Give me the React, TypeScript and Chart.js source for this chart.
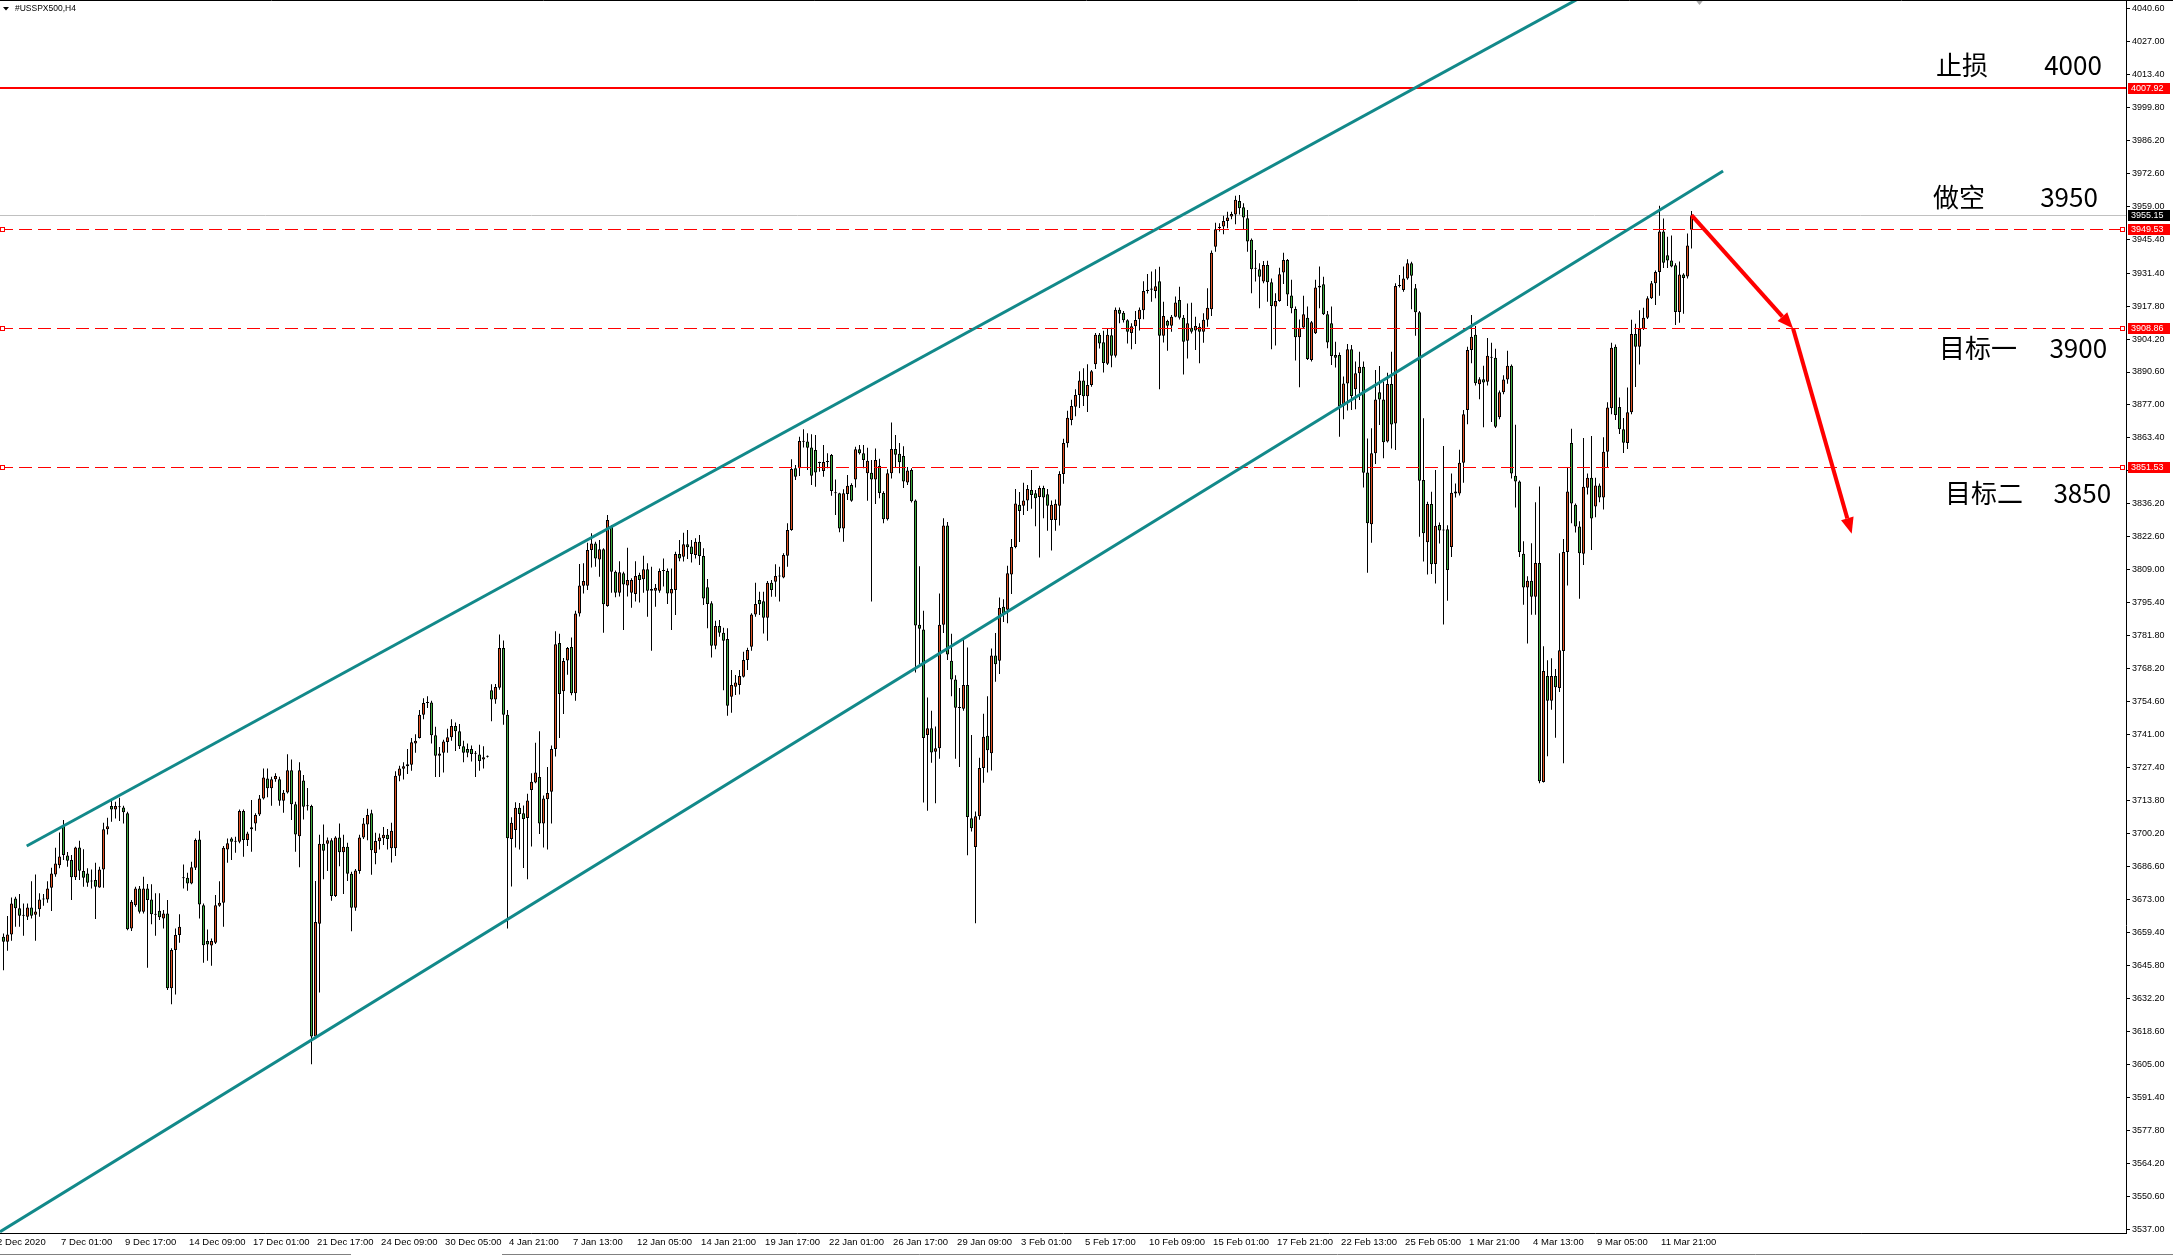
import React, { useEffect, useRef } from 'react';
import { Chart, registerables } from 'chart.js';

Chart.register(...registerables);

// ---- data (H4 candles, #USSPX500) ----
const opens = [
3657.7,3655.6,3658.6,3673.5,3669.4,3666.3,3665.9,3669.8,3666.8,3669.0,
3673.1,3673.1,3677.9,3683.4,3687.2,3703.5,3691.2,3689.3,3682.2,3694.5,
3684.8,3683.8,3680.5,3681.1,3678.0,3685.4,3702.0,3711.6,3710.2,3711.5,
3711.0,3708.6,3661.1,3670.7,3677.6,3668.0,3677.6,3673.1,3667.0,3668.4,
3665.2,3667.3,3636.4,3652.2,3658.4,3681.8,3682.0,3679.7,3686.1,3697.8,
3670.7,3655.9,3654.1,3655.2,3670.5,3671.7,3693.7,3698.2,3696.9,3696.9,
3709.5,3697.6,3702.0,3704.4,3708.1,3714.7,3723.0,3718.9,3722.6,3722.6,
3713.8,3717.2,3726.4,3712.3,3699.1,3722.1,3711.5,3711.6,3616.6,3663.0,
3696.0,3696.0,3697.5,3674.5,3698.6,3692.5,3694.8,3683.7,3669.6,3684.8,
3698.6,3704.0,3708.6,3692.2,3697.1,3698.3,3699.8,3694.2,3694.2,3724.1,
3727.0,3728.0,3728.6,3737.4,3739.7,3749.2,3754.1,3754.3,3740.8,3732.3,
3733.6,3738.0,3740.0,3744.6,3742.4,3736.3,3735.1,3735.1,3733.2,3732.8,
3730.8,3731.9,3759.3,3755.5,3760.4,3776.8,3749.2,3698.0,3701.7,3710.9,
3708.6,3706.7,3718.2,3721.3,3723.6,3704.4,3714.4,3717.5,3735.1,3778.8,
3758.9,3771.6,3777.2,3758.1,3791.0,3802.4,3802.4,3817.2,3819.9,3813.3,
3817.5,3794.1,3826.8,3808.2,3799.6,3807.6,3802.5,3799.6,3799.0,3806.9,
3805.1,3809.3,3800.4,3800.4,3800.4,3808.5,3808.5,3799.3,3800.7,3815.5,
3814.4,3819.6,3818.6,3815.1,3820.6,3814.7,3801.8,3795.2,3777.7,3785.8,
3783.1,3780.5,3756.7,3760.8,3761.5,3764.9,3771.8,3777.3,3790.6,3796.6,
3796.1,3789.3,3803.7,3804.1,3806.5,3805.9,3814.8,3825.4,3850.9,3850.9,
3861.8,3861.9,3859.5,3858.4,3853.1,3849.8,3853.5,3856.4,3841.0,3840.6,
3826.1,3840.3,3844.0,3846.3,3858.7,3857.1,3848.8,3849.1,3846.3,3851.9,
3840.7,3829.9,3848.8,3858.8,3856.9,3856.0,3845.0,3850.2,3837.6,3786.4,
3784.4,3740.9,3743.7,3734.0,3735.4,3786.4,3827.3,3771.5,3763.8,3752.2,
3751.7,3761.5,3706.6,3694.7,3707.4,3727.3,3740.6,3733.4,3773.7,3771.5,
3793.8,3792.5,3807.1,3818.4,3835.9,3835.4,3837.6,3841.9,3840.6,3839.0,
3842.8,3840.2,3829.6,3829.6,3835.4,3848.5,3861.2,3870.8,3876.3,3881.1,
3887.1,3880.6,3885.2,3893.8,3906.0,3902.9,3894.0,3905.8,3897.3,3916.3,
3915.0,3911.9,3906.7,3909.5,3912.4,3916.1,3924.0,3924.5,3924.0,3928.0,
3905.6,3911.6,3909.7,3913.4,3920.3,3913.0,3903.5,3908.9,3907.7,3909.3,
3907.2,3912.1,3916.5,3942.3,3950.0,3950.6,3952.9,3954.7,3955.6,3961.1,
3958.5,3954.0,3945.1,3933.2,3933.0,3927.9,3934.7,3927.6,3917.6,3919.9,
3931.6,3936.8,3922.1,3916.6,3904.9,3909.0,3913.0,3895.6,3906.6,3926.2,
3926.8,3914.4,3910.7,3897.6,3897.6,3876.7,3885.9,3900.0,3883.5,3890.1,
3892.8,3849.2,3827.8,3857.1,3882.2,3879.3,3861.9,3885.7,3869.4,3926.1,
3924.4,3929.2,3935.4,3925.1,3915.2,3846.1,3820.4,3836.2,3811.4,3827.5,
3825.2,3825.7,3818.4,3840.5,3840.5,3853.2,3874.9,3899.7,3906.0,3885.5,
3887.6,3886.6,3896.8,3896.5,3871.9,3882.2,3887.5,3893.2,3847.8,3845.4,
3815.6,3801.7,3804.5,3797.9,3811.8,3721.5,3765.2,3755.0,3765.2,3760.3,
3775.5,3816.4,3861.3,3835.9,3826.9,3815.6,3842.9,3847.0,3835.1,3843.8,
3838.8,3857.7,3875.7,3901.0,3876.2,3867.0,3861.3,3874.0,3906.3,3901.0,
3908.4,3913.0,3921.0,3927.2,3931.8,3948.5,3938.7,3936.6,3934.6,3915.3,
3930.8,3930.0,3949.3
];

const highs = [
3659.0,3666.2,3673.9,3674.2,3675.3,3671.4,3671.4,3680.6,3683.4,3675.6,
3675.3,3680.6,3686.1,3694.4,3700.7,3705.8,3692.6,3691.4,3694.8,3697.3,
3693.8,3685.9,3685.4,3688.2,3686.6,3704.7,3706.8,3713.8,3713.4,3715.0,
3711.7,3709.2,3672.8,3678.3,3678.6,3682.4,3679.4,3679.3,3675.6,3675.6,
3668.7,3672.8,3652.9,3661.1,3667.0,3687.5,3684.1,3688.6,3698.2,3701.4,
3671.4,3660.7,3657.0,3674.9,3680.6,3695.1,3698.2,3698.7,3698.9,3710.2,
3710.2,3701.0,3714.1,3708.6,3716.1,3727.1,3727.1,3723.7,3725.1,3723.7,
3718.2,3733.0,3730.8,3713.4,3729.7,3724.4,3719.0,3712.1,3680.7,3699.8,
3704.0,3698.6,3698.3,3699.1,3704.4,3699.8,3696.5,3684.5,3685.6,3699.8,
3706.7,3710.5,3710.1,3700.6,3700.3,3702.9,3702.1,3704.7,3725.9,3728.2,
3729.7,3735.1,3739.7,3741.2,3751.2,3756.1,3756.9,3755.0,3744.3,3735.9,
3738.9,3743.5,3747.4,3746.1,3745.4,3738.5,3737.4,3736.6,3734.3,3736.9,
3736.3,3732.4,3761.8,3761.9,3782.3,3779.9,3751.2,3707.0,3713.2,3712.9,
3711.8,3716.7,3725.1,3737.7,3742.4,3715.9,3727.7,3736.6,3783.7,3782.6,
3772.6,3777.2,3781.1,3792.1,3811.4,3811.7,3820.2,3824.1,3820.6,3821.3,
3817.9,3831.6,3827.5,3808.7,3812.6,3808.2,3818.1,3805.5,3812.6,3807.8,
3814.8,3811.7,3810.3,3803.2,3809.6,3813.7,3809.6,3809.6,3816.5,3821.3,
3824.3,3825.4,3821.3,3822.0,3823.4,3817.9,3805.2,3796.1,3788.0,3788.3,
3785.1,3784.9,3767.7,3765.6,3767.7,3775.2,3776.9,3791.1,3803.7,3800.0,
3800.0,3804.4,3804.8,3811.3,3810.3,3815.8,3828.2,3854.6,3852.2,3863.9,
3867.0,3865.3,3864.9,3864.6,3853.6,3860.5,3857.1,3856.8,3846.3,3840.8,
3842.2,3848.1,3844.7,3859.8,3860.5,3860.5,3859.4,3854.3,3859.1,3854.8,
3841.4,3850.5,3869.8,3864.6,3861.3,3860.0,3851.4,3850.9,3838.0,3810.5,
3792.1,3756.4,3750.9,3744.4,3799.3,3830.3,3828.7,3782.7,3765.5,3760.3,
3780.1,3777.0,3740.9,3709.3,3731.5,3749.7,3756.9,3776.6,3783.0,3797.6,
3796.9,3810.7,3821.7,3842.3,3841.1,3844.9,3844.0,3850.2,3841.9,3843.7,
3843.7,3842.3,3837.6,3838.0,3849.7,3863.1,3874.6,3879.2,3883.5,3890.9,
3892.1,3893.8,3891.4,3906.7,3906.7,3907.6,3908.6,3908.9,3917.2,3917.2,
3915.8,3912.4,3910.7,3915.8,3917.2,3928.0,3931.0,3932.0,3933.0,3934.0,
3919.6,3912.1,3914.1,3921.7,3925.8,3914.1,3918.9,3919.2,3913.4,3910.7,
3914.8,3925.1,3940.7,3952.2,3951.9,3955.0,3956.7,3956.7,3963.3,3963.6,
3960.2,3957.4,3945.7,3940.9,3935.4,3936.4,3936.5,3929.2,3923.1,3933.6,
3939.8,3937.2,3928.6,3917.6,3912.3,3922.0,3917.6,3911.6,3928.6,3934.1,
3929.9,3915.8,3917.6,3903.1,3898.6,3888.7,3902.2,3901.7,3894.9,3899.0,
3894.9,3863.2,3867.4,3891.4,3893.1,3886.6,3890.3,3899.0,3927.2,3930.6,
3934.1,3937.1,3936.1,3926.9,3915.8,3871.5,3837.1,3841.2,3850.2,3828.5,
3860.1,3827.4,3848.7,3844.6,3858.5,3874.9,3901.0,3914.1,3909.6,3888.4,
3893.2,3904.6,3902.7,3900.2,3883.0,3889.3,3899.4,3893.7,3868.8,3845.9,
3820.8,3806.4,3820.0,3836.9,3843.4,3777.5,3771.7,3772.5,3768.1,3815.9,
3821.7,3851.1,3867.2,3836.4,3829.0,3863.4,3848.7,3864.2,3847.0,3844.6,
3863.7,3878.1,3902.7,3901.9,3880.1,3871.6,3884.2,3912.2,3910.5,3916.1,
3917.1,3921.8,3928.1,3932.5,3959.2,3953.9,3946.4,3946.9,3935.4,3936.2,
3931.3,3947.7,3957.0
];

const lows = [
3643.9,3651.9,3656.0,3661.8,3661.8,3658.1,3664.6,3665.2,3656.0,3665.9,
3670.5,3671.7,3668.3,3682.4,3685.9,3689.3,3686.6,3672.8,3681.1,3681.1,
3678.3,3678.3,3677.6,3665.0,3677.9,3677.9,3699.9,3705.1,3706.5,3705.4,
3704.4,3660.4,3660.1,3670.1,3667.3,3667.3,3644.9,3662.8,3658.1,3664.6,
3661.1,3635.7,3629.8,3633.9,3655.2,3677.6,3676.7,3679.3,3685.2,3665.2,
3647.0,3647.8,3645.7,3654.7,3670.1,3661.8,3688.2,3689.3,3692.3,3696.2,
3690.7,3695.1,3692.7,3701.4,3707.5,3714.3,3715.2,3711.7,3721.6,3711.7,
3708.8,3716.8,3705.8,3692.7,3686.3,3706.0,3709.8,3605.1,3615.8,3634.7,
3681.4,3684.8,3672.5,3674.1,3686.8,3675.3,3680.7,3660.0,3668.4,3683.7,
3698.0,3697.5,3683.3,3687.6,3693.7,3695.5,3693.7,3688.3,3691.0,3721.8,
3722.5,3724.8,3726.2,3733.6,3739.4,3747.4,3752.0,3737.4,3723.6,3723.6,
3725.4,3733.6,3738.5,3734.3,3735.1,3729.7,3731.7,3730.0,3723.6,3726.2,
3727.1,3731.6,3746.6,3753.8,3759.6,3745.1,3661.1,3678.4,3694.5,3693.7,
3686.0,3681.4,3694.9,3721.0,3700.1,3694.5,3693.7,3704.4,3732.0,3739.7,
3749.6,3765.7,3757.3,3755.0,3789.8,3799.3,3800.7,3810.0,3810.3,3806.2,
3783.1,3793.8,3799.6,3797.7,3798.0,3784.2,3798.0,3793.4,3795.9,3795.5,
3799.6,3789.7,3775.6,3793.8,3799.6,3802.1,3794.9,3784.2,3790.4,3812.6,
3812.4,3813.5,3812.0,3813.7,3811.0,3794.5,3784.9,3772.9,3776.3,3781.4,
3759.4,3748.8,3750.1,3757.4,3757.6,3764.6,3767.7,3775.6,3789.7,3790.4,
3782.8,3779.8,3797.9,3797.9,3795.9,3805.5,3810.3,3825.1,3846.1,3847.7,
3859.5,3850.2,3844.0,3843.3,3849.5,3847.4,3850.9,3839.6,3831.6,3824.5,
3820.6,3837.8,3837.1,3843.0,3856.6,3850.9,3837.5,3795.9,3836.2,3838.5,
3828.2,3829.4,3846.7,3851.4,3848.8,3842.8,3844.0,3836.8,3766.7,3770.1,
3713.1,3709.7,3729.4,3712.7,3731.1,3783.0,3771.8,3756.9,3731.1,3727.7,
3750.9,3691.3,3701.1,3663.3,3705.9,3721.2,3725.4,3726.3,3762.9,3766.0,
3787.5,3787.0,3799.0,3817.9,3820.5,3831.6,3833.3,3834.2,3827.0,3814.1,
3830.3,3825.1,3817.0,3825.1,3827.3,3844.5,3859.5,3868.6,3872.3,3875.8,
3876.6,3874.1,3884.5,3891.8,3900.3,3890.4,3893.5,3892.6,3896.6,3910.7,
3911.0,3902.4,3900.0,3902.1,3907.7,3912.4,3923.0,3919.6,3921.0,3883.5,
3902.8,3899.4,3907.2,3913.2,3912.3,3889.6,3896.2,3906.5,3899.7,3894.2,
3902.7,3909.3,3913.7,3940.2,3948.5,3947.4,3949.9,3953.6,3951.5,3955.6,
3949.2,3940.2,3923.1,3927.9,3916.9,3927.2,3919.6,3900.0,3901.5,3919.6,
3926.9,3917.8,3914.8,3895.3,3884.3,3908.6,3895.6,3894.9,3906.3,3916.9,
3914.1,3900.4,3893.5,3892.5,3863.9,3871.1,3874.7,3874.9,3875.2,3879.1,
3843.0,3807.8,3820.2,3852.7,3868.7,3855.0,3861.5,3859.1,3858.4,3925.5,
3923.7,3928.6,3916.5,3905.6,3822.7,3812.4,3807.1,3807.3,3803.4,3819.9,
3786.5,3796.3,3814.3,3838.8,3839.7,3844.9,3869.1,3894.2,3885.0,3879.4,
3867.8,3885.0,3870.0,3867.5,3871.1,3881.4,3885.8,3846.7,3834.7,3814.3,
3794.6,3778.6,3790.5,3790.5,3721.0,3721.3,3732.1,3751.3,3739.8,3758.6,
3729.2,3802.5,3828.2,3824.4,3797.1,3811.0,3840.1,3817.2,3830.7,3836.9,
3833.9,3851.1,3873.2,3870.8,3865.0,3857.2,3858.8,3873.2,3884.4,3893.7,
3907.9,3912.5,3920.7,3918.2,3922.0,3933.5,3933.5,3933.8,3910.0,3910.9,
3914.6,3929.2,3941.5
];

const closes = [
3655.6,3658.6,3671.4,3669.4,3666.3,3666.6,3669.8,3666.3,3668.1,3673.1,
3673.3,3677.6,3683.8,3687.9,3690.8,3691.4,3689.0,3682.2,3694.5,3684.9,
3682.0,3680.0,3680.9,3678.3,3685.4,3702.0,3703.3,3710.2,3711.6,3711.1,
3709.0,3660.8,3672.1,3677.6,3668.0,3677.6,3672.8,3667.0,3666.8,3665.7,
3667.3,3636.4,3652.2,3658.4,3661.8,3682.2,3679.7,3686.3,3697.6,3671.0,
3654.2,3654.5,3655.9,3670.7,3671.7,3694.4,3696.2,3696.9,3697.1,3709.5,
3697.6,3700.3,3702.8,3707.9,3714.7,3723.4,3718.9,3722.6,3724.0,3713.8,
3717.1,3726.4,3712.3,3699.9,3726.4,3711.3,3711.8,3616.6,3663.8,3696.0,
3693.2,3697.5,3674.5,3698.6,3692.5,3694.8,3683.7,3669.6,3685.0,3698.6,
3704.4,3707.9,3693.4,3697.2,3698.6,3699.8,3698.0,3701.4,3724.1,3727.1,
3728.0,3728.8,3737.9,3738.5,3749.2,3754.1,3754.4,3740.8,3732.3,3733.3,
3738.2,3740.0,3744.6,3742.4,3736.3,3733.6,3733.6,3733.1,3733.4,3730.2,
3731.7,3732.1,3755.5,3760.7,3776.8,3749.2,3698.3,3704.7,3710.9,3708.3,
3706.3,3713.9,3721.6,3725.4,3704.4,3714.7,3717.0,3735.1,3778.3,3757.8,
3771.4,3776.8,3758.1,3791.0,3802.5,3804.4,3817.2,3819.9,3813.7,3817.5,
3794.8,3829.6,3808.2,3799.6,3808.0,3803.0,3804.8,3804.8,3806.5,3804.8,
3809.3,3800.4,3801.1,3801.6,3808.5,3808.7,3799.3,3801.1,3815.5,3813.7,
3819.6,3818.3,3815.5,3820.6,3814.7,3797.2,3794.9,3777.7,3785.8,3783.1,
3779.8,3753.0,3761.5,3762.5,3765.2,3771.8,3775.9,3790.6,3794.9,3794.8,
3789.3,3803.7,3800.7,3806.5,3806.3,3815.1,3825.4,3850.6,3847.4,3862.1,
3862.0,3859.4,3847.8,3849.2,3853.3,3853.5,3853.7,3841.5,3840.6,3826.1,
3840.6,3843.7,3837.5,3858.7,3857.1,3854.3,3854.0,3846.3,3854.3,3840.7,
3829.9,3848.8,3858.8,3856.5,3853.4,3845.4,3850.0,3837.3,3786.1,3784.7,
3739.7,3743.7,3733.7,3735.4,3786.4,3827.3,3774.1,3763.8,3752.1,3752.0,
3761.5,3707.1,3702.4,3707.4,3727.3,3740.2,3734.6,3773.7,3770.1,3793.3,
3790.7,3807.6,3818.4,3836.4,3833.3,3837.6,3842.3,3839.9,3838.5,3842.8,
3838.8,3835.4,3835.9,3836.3,3848.5,3861.3,3871.7,3876.6,3881.1,3887.1,
3880.6,3885.2,3890.9,3906.0,3902.4,3894.3,3906.0,3897.3,3916.3,3914.6,
3911.9,3907.2,3909.5,3912.0,3916.3,3924.0,3924.5,3925.0,3926.0,3905.5,
3913.7,3909.7,3913.4,3919.3,3913.0,3903.1,3910.7,3907.2,3909.6,3907.2,
3912.1,3917.1,3939.8,3949.5,3950.3,3952.9,3954.3,3955.8,3961.6,3958.1,
3954.3,3944.4,3933.0,3933.5,3929.9,3934.7,3927.6,3917.8,3919.9,3930.9,
3936.8,3922.6,3916.9,3904.9,3908.9,3914.4,3896.0,3911.1,3925.5,3925.5,
3914.4,3902.8,3897.2,3896.5,3876.6,3885.9,3900.0,3880.7,3890.1,3892.8,
3849.1,3828.2,3857.1,3879.3,3879.3,3861.6,3885.7,3869.0,3926.1,3926.3,
3929.2,3935.4,3930.3,3915.2,3845.8,3824.1,3836.2,3811.3,3827.2,3825.2,
3825.5,3808.9,3840.8,3841.3,3853.2,3873.2,3899.7,3905.1,3886.0,3887.6,
3886.3,3897.3,3896.5,3868.0,3882.2,3887.5,3893.2,3848.7,3845.4,3816.4,
3801.7,3804.5,3797.9,3811.8,3721.8,3767.3,3755.0,3765.2,3760.6,3775.8,
3816.4,3841.3,3836.4,3826.9,3815.9,3843.3,3847.0,3830.2,3843.8,3838.8,
3857.7,3876.0,3900.6,3872.9,3867.0,3861.4,3874.0,3906.3,3901.0,3908.4,
3913.0,3921.0,3927.2,3931.8,3948.5,3935.7,3936.6,3934.1,3915.3,3930.8,
3929.4,3942.8,3955.15
];

const xTickLabels = [
  '2 Dec 2020', '7 Dec 01:00', '9 Dec 17:00', '14 Dec 09:00', '17 Dec 01:00', '21 Dec 17:00',
  '24 Dec 09:00', '30 Dec 05:00', '4 Jan 21:00', '7 Jan 13:00', '12 Jan 05:00', '14 Jan 21:00',
  '19 Jan 17:00', '22 Jan 01:00', '26 Jan 17:00', '29 Jan 09:00', '3 Feb 01:00', '5 Feb 17:00',
  '10 Feb 09:00', '15 Feb 01:00', '17 Feb 21:00', '22 Feb 13:00', '25 Feb 05:00', '1 Mar 21:00',
  '4 Mar 13:00', '9 Mar 05:00', '11 Mar 21:00'
];
const barsPerLabel = 16;

const yTickValues = [
  4040.6, 4027.0, 4013.4, 3999.8, 3986.2, 3972.6, 3959.0, 3945.4, 3931.4, 3917.8,
  3904.2, 3890.6, 3877.0, 3863.4, 3849.8, 3836.2, 3822.6, 3809.0, 3795.4, 3781.8,
  3768.2, 3754.6, 3741.0, 3727.4, 3713.8, 3700.2, 3686.6, 3673.0, 3659.4, 3645.8,
  3632.2, 3618.6, 3605.0, 3591.4, 3577.8, 3564.2, 3550.6, 3537.0
];

const stopLine = 4007.92;
const dashedLevels = [3949.53, 3908.86, 3851.53];
const bidPrice = 3955.15;

// channel lines: [bar index, price]
const upperChannel = [[5.8, 3695.1], [400, 4050.2]];
const lowerChannel = [[-0.875, 3536.0], [429.9, 3973.5]];
// forecast arrows
const arrowPoints = [[422, 3955.3], [447.4, 3908.5], [462.05, 3823.9]];

const annotations = [
  { label: '止损', value: '4000', price: 4017.2, from: 483.1, to: 524.6 },
  { label: '做空', value: '3950', price: 3962.9, from: 482.4, to: 523.6 },
  { label: '目标一', value: '3900', price: 3900.5, from: 483.9, to: 525.9 },
  { label: '目标二', value: '3850', price: 3840.5, from: 485.4, to: 526.9 },
];

const symbolTitle = '#USSPX500,H4';

// ---- layout constants ----
const W = 2173;
const H = 1257;
const PX_PER_BAR = 4;
const AXIS_W = 47;
const AXIS_H = 24;
const X_MIN = -0.875;
const X_MAX = X_MIN + (W - AXIS_W) / PX_PER_BAR;
const Y_MAX = 4044.02;
const Y_MIN = 3535.51;

const UP = '#df5020';
const DOWN = '#3caa3c';
const TEAL = '#12898a';
const RED = '#ff0000';

function drawArrow(ctx: CanvasRenderingContext2D, x1: number, y1: number, x2: number, y2: number) {
  const ang = Math.atan2(y2 - y1, x2 - x1);
  const hl = 16, hw = 6.5;
  const bx = x2 - hl * Math.cos(ang);
  const by = y2 - hl * Math.sin(ang);
  ctx.beginPath();
  ctx.moveTo(x1, y1);
  ctx.lineTo(bx, by);
  ctx.stroke();
  ctx.beginPath();
  ctx.moveTo(x2, y2);
  ctx.lineTo(bx + hw * Math.sin(ang), by - hw * Math.cos(ang));
  ctx.lineTo(bx - hw * Math.sin(ang), by + hw * Math.cos(ang));
  ctx.closePath();
  ctx.fill();
}

const overlayPlugin = {
  id: 'mtOverlay',
  beforeDraw(chart: any) {
    const ctx = chart.ctx;
    ctx.save();
    ctx.fillStyle = '#ffffff';
    ctx.fillRect(0, 0, chart.width, chart.height);
    ctx.restore();
  },
  beforeDatasetsDraw(chart: any) {
    const { ctx, chartArea: a, scales } = chart;
    const y = scales.y;
    ctx.save();
    const by = Math.round(y.getPixelForValue(bidPrice)) + 0.5;
    ctx.strokeStyle = '#c0c0c0';
    ctx.lineWidth = 1;
    ctx.beginPath();
    ctx.moveTo(a.left, by);
    ctx.lineTo(a.right, by);
    ctx.stroke();
    ctx.restore();
  },
  afterDatasetsDraw(chart: any) {
    const { ctx, chartArea: a, scales } = chart;
    const x = scales.x, y = scales.y;
    ctx.save();
    ctx.beginPath();
    ctx.rect(a.left, a.top, a.right - a.left, a.bottom - a.top);
    ctx.clip();

    // stop line
    const sy = Math.round(y.getPixelForValue(stopLine));
    ctx.strokeStyle = RED;
    ctx.lineWidth = 2;
    ctx.beginPath();
    ctx.moveTo(a.left, sy);
    ctx.lineTo(a.right, sy);
    ctx.stroke();

    // dashed levels
    ctx.lineWidth = 1;
    dashedLevels.forEach((lv) => {
      const ly = Math.round(y.getPixelForValue(lv)) + 0.5;
      ctx.setLineDash([13, 6]);
      ctx.strokeStyle = RED;
      ctx.beginPath();
      ctx.moveTo(a.left, ly);
      ctx.lineTo(a.right, ly);
      ctx.stroke();
      ctx.setLineDash([]);
      ctx.fillStyle = '#ffffff';
      ctx.fillRect(a.left + 0.5, ly - 2, 4, 4);
      ctx.strokeRect(a.left + 0.5, ly - 2, 4, 4);
      ctx.fillRect(a.right - 5.5, ly - 2, 4, 4);
      ctx.strokeRect(a.right - 5.5, ly - 2, 4, 4);
    });

    // channel lines
    ctx.strokeStyle = TEAL;
    ctx.lineWidth = 3;
    [upperChannel, lowerChannel].forEach((ln) => {
      ctx.beginPath();
      ctx.moveTo(x.getPixelForValue(ln[0][0]), y.getPixelForValue(ln[0][1]));
      ctx.lineTo(x.getPixelForValue(ln[1][0]), y.getPixelForValue(ln[1][1]));
      ctx.stroke();
    });

    // arrows
    ctx.strokeStyle = RED;
    ctx.fillStyle = RED;
    ctx.lineWidth = 4;
    ctx.lineCap = 'butt';
    for (let i = 0; i < arrowPoints.length - 1; i++) {
      const p = arrowPoints[i], q = arrowPoints[i + 1];
      drawArrow(ctx, x.getPixelForValue(p[0]), y.getPixelForValue(p[1]), x.getPixelForValue(q[0]), y.getPixelForValue(q[1]));
    }

    // annotation texts
    ctx.fillStyle = '#000000';
    ctx.font = '26px "Noto Sans CJK SC"';
    ctx.textBaseline = 'middle';
    annotations.forEach((an) => {
      const ty = y.getPixelForValue(an.price);
      ctx.textAlign = 'left';
      ctx.fillText(an.label, x.getPixelForValue(an.from), ty);
      ctx.textAlign = 'right';
      ctx.fillText(an.value, x.getPixelForValue(an.to), ty);
    });

    // chart shift marker
    const mx = x.getPixelForValue(opens.length + 1);
    ctx.fillStyle = '#a8a8a8';
    ctx.beginPath();
    ctx.moveTo(mx - 4, a.top);
    ctx.lineTo(mx + 4, a.top);
    ctx.lineTo(mx, a.top + 5);
    ctx.closePath();
    ctx.fill();
    ctx.restore();
  },
  afterDraw(chart: any) {
    const { ctx, chartArea: a, scales } = chart;
    const y = scales.y;
    ctx.save();
    ctx.font = '9px "Liberation Sans"';
    ctx.textBaseline = 'middle';
    ctx.textAlign = 'left';
    const boxes = [
      { v: stopLine, c: RED },
      ...dashedLevels.map((v) => ({ v, c: RED })),
      { v: bidPrice, c: '#000000' },
    ];
    boxes.forEach((b) => {
      const py = Math.round(y.getPixelForValue(b.v));
      ctx.fillStyle = b.c;
      ctx.fillRect(a.right + 2, py - 5, 42, 11);
      ctx.fillStyle = '#ffffff';
      ctx.fillText(b.v.toFixed(2), a.right + 5, py + 0.5);
    });

    // top frame line
    ctx.strokeStyle = '#000000';
    ctx.lineWidth = 1;
    ctx.beginPath();
    ctx.moveTo(0, 0.5);
    ctx.lineTo(chart.width, 0.5);
    ctx.stroke();

    // title
    ctx.fillStyle = '#000000';
    ctx.beginPath();
    ctx.moveTo(3, 7);
    ctx.lineTo(9, 7);
    ctx.lineTo(6, 10.5);
    ctx.closePath();
    ctx.fill();
    ctx.font = '8.5px "Liberation Sans"';
    ctx.fillText(symbolTitle, 15, 8.5);

    // bottom tab strip
    ctx.strokeStyle = '#808080';
    ctx.beginPath();
    ctx.moveTo(0, chart.height - 2.5);
    ctx.lineTo(351, chart.height - 2.5);
    ctx.moveTo(502, chart.height - 2.5);
    ctx.lineTo(chart.width, chart.height - 2.5);
    ctx.stroke();
    ctx.restore();
  },
};

function zeroPadding(s: any) {
  s.paddingTop = 0;
  s.paddingBottom = 0;
  s.paddingLeft = 0;
  s.paddingRight = 0;
}

export default function App() {
  const ref = useRef<HTMLCanvasElement | null>(null);

  useEffect(() => {
    document.body.style.margin = '0';
    document.body.style.overflow = 'hidden';
    const canvas = ref.current;
    if (!canvas) return;

    const bodyData = opens.map((o, i) => ({ x: i, y: [o, closes[i]] }));
    const wickData = lows.map((l, i) => ({ x: i, y: [l, highs[i]] }));
    const bodyColors = opens.map((o, i) => (closes[i] >= o ? UP : DOWN));

    const chart = new Chart(canvas, {
      type: 'bar',
      data: {
        datasets: [
          {
            label: 'body',
            data: bodyData as any,
            backgroundColor: bodyColors,
            borderColor: '#000000',
            borderWidth: 1,
            borderSkipped: false,
            barThickness: 3,
            grouped: false,
            minBarLength: 1,
            inflateAmount: 0,
            order: 0,
          } as any,
          {
            label: 'wick',
            data: wickData as any,
            backgroundColor: '#000000',
            borderWidth: 0,
            barThickness: 1,
            grouped: false,
            inflateAmount: 0,
            order: 1,
          } as any,
        ],
      },
      options: {
        animation: false,
        responsive: false,
        events: [],
        layout: { padding: 0 },
        plugins: {
          legend: { display: false },
          tooltip: { enabled: false },
          title: { display: false },
        },
        scales: {
          x: {
            type: 'linear',
            position: 'bottom',
            min: X_MIN,
            max: X_MAX,
            offset: false,
            grid: { display: false, drawTicks: false },
            border: { display: true, color: '#000000', width: 1 },
            ticks: {
              autoSkip: false,
              maxRotation: 0,
              minRotation: 0,
              align: 'start',
              padding: 4,
              color: '#000000',
              font: { family: 'Liberation Sans', size: 9.5 },
              callback: (_v: any, i: number) => xTickLabels[i],
            },
            afterBuildTicks: (s: any) => {
              s.ticks = xTickLabels.map((_, k) => ({ value: k * barsPerLabel - 1.6 }));
            },
            afterFit: (s: any) => {
              s.height = AXIS_H;
              zeroPadding(s);
            },
          } as any,
          y: {
            type: 'linear',
            position: 'right',
            min: Y_MIN,
            max: Y_MAX,
            grid: { display: true, drawOnChartArea: false, drawTicks: true, tickLength: 4, color: '#000000' },
            border: { display: true, color: '#000000', width: 1 },
            ticks: {
              autoSkip: false,
              padding: 2,
              color: '#000000',
              font: { family: 'Liberation Sans', size: 9 },
              callback: (v: any) => Number(v).toFixed(2),
            },
            afterBuildTicks: (s: any) => {
              s.ticks = yTickValues.map((v) => ({ value: v }));
            },
            afterFit: (s: any) => {
              s.width = AXIS_W;
              zeroPadding(s);
            },
          } as any,
        },
      },
      plugins: [overlayPlugin as any],
    });

    return () => chart.destroy();
  }, []);

  return (
    <div style={{ width: W, height: H, background: '#ffffff' }}>
      <canvas ref={ref} width={W} height={H} style={{ display: 'block' }} />
    </div>
  );
}
